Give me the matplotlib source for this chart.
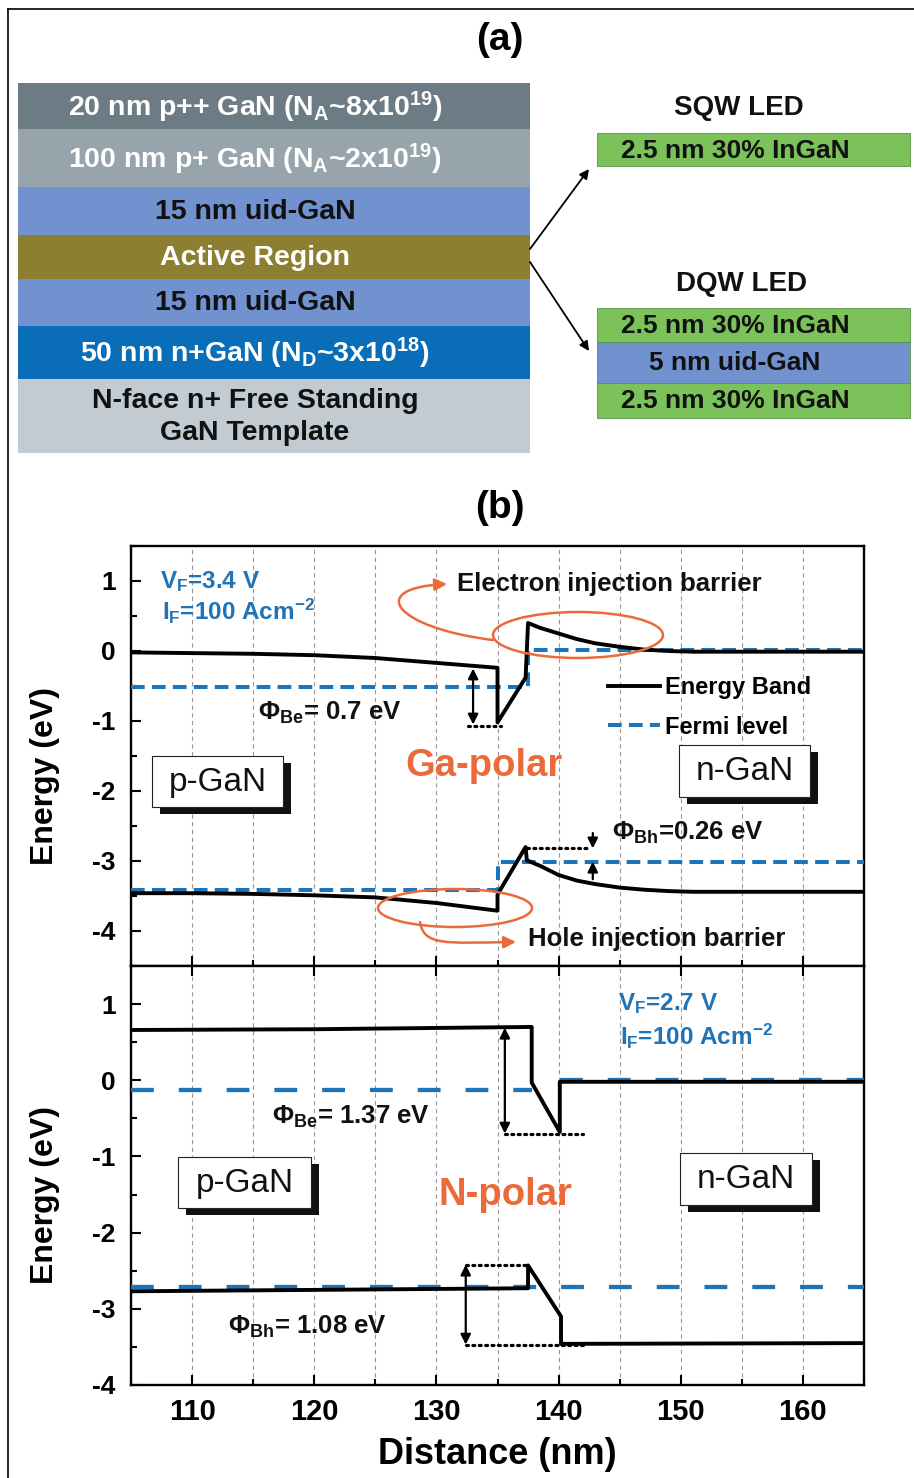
import matplotlib
matplotlib.use('Agg')
import matplotlib.pyplot as plt
from matplotlib.patches import Rectangle, Ellipse, FancyArrowPatch
from matplotlib.path import Path
from matplotlib.ticker import MultipleLocator

plt.rcParams.update({
    'font.family': ['Liberation Sans', 'DejaVu Sans'],
    'font.weight': 'bold',
    'axes.labelweight': 'bold',
    'mathtext.default': 'regular',
    'axes.unicode_minus': False,
})

BLUE = '#1f73b7'
ORANGE = '#eb6a3a'

# ---------------- panel (a) data ----------------
layer_labels = ['20 nm p++ GaN ($N_A$~8x$10^{19}$)',
                '100 nm p+ GaN ($N_A$~2x$10^{19}$)',
                '15 nm uid-GaN',
                'Active Region',
                '15 nm uid-GaN',
                '50 nm n+GaN ($N_D$~3x$10^{18}$)',
                'N-face n+ Free Standing\nGaN Template']
layer_colors = ['#6d7c84', '#97a4ab', '#7191cf', '#8c7f31', '#7191cf', '#0a6db7', '#c1cbd1']
layer_text_colors = ['white', 'white', '#111111', 'white', '#111111', 'white', '#111111']
layer_edges = [83, 129, 187, 235, 279, 326, 379, 453]

sqw_labels = ['2.5 nm 30% InGaN']
sqw_colors = ['#7cc25a']
sqw_edges = [133, 166]
dqw_labels = ['2.5 nm 30% InGaN', '5 nm uid-GaN', '2.5 nm 30% InGaN']
dqw_colors = ['#7cc25a', '#7191cf', '#7cc25a']
dqw_edges = [308, 342, 383, 418]

# ---------------- panel (b) data ----------------
ga_cb_x = [105, 110, 115, 120, 125, 130, 135, 135, 137.3, 137.5, 138.5, 140, 141.5, 143, 145, 147, 149, 151, 165]
ga_cb_e = [-0.02, -0.03, -0.04, -0.06, -0.10, -0.17, -0.24, -1.02, -0.38, 0.40, 0.33, 0.25, 0.17, 0.11, 0.06, 0.02, 0.00, -0.01, -0.01]
ga_vb_x = [105, 110, 115, 120, 125, 130, 135, 135, 137.3, 137.4, 138.5, 140, 141.5, 143, 145, 147, 149, 151, 165]
ga_vb_e = [-3.46, -3.46, -3.47, -3.49, -3.52, -3.60, -3.71, -3.48, -2.80, -2.99, -3.07, -3.20, -3.28, -3.33, -3.38, -3.41, -3.43, -3.44, -3.44]
ga_fe_x = [105, 137.5, 137.5, 165]
ga_fe_e = [-0.52, -0.52, 0.02, 0.02]
ga_fh_x = [105, 135, 135, 165]
ga_fh_e = [-3.41, -3.41, -3.01, -3.01]

n_cb_x = [105, 120, 137.8, 137.8, 140.1, 140.1, 165]
n_cb_e = [0.66, 0.67, 0.70, -0.03, -0.68, -0.02, -0.02]
n_vb_x = [105, 137.5, 137.5, 140.2, 140.2, 165]
n_vb_e = [-2.77, -2.73, -2.43, -3.10, -3.46, -3.45]
n_fe_x = [105, 137.8, float('nan'), 140.1, 165]
n_fe_e = [-0.13, -0.13, float('nan'), 0.01, 0.01]
n_fh_x = [105, 165]
n_fh_e = [-2.71, -2.71]

x_ticks = [110, 120, 130, 140, 150, 160]
top_yticks = [1, 0, -1, -2, -3, -4]
bot_yticks = [1, 0, -1, -2, -3, -4]

# barrier markers: (x, y_from, y_to)
ga_be_arrow = (133.0, -0.25, -1.05)
ga_be_dots = ([132.6, 135.3], -1.07)
ga_bh_dots = ([137.4, 142.6], -2.82)
ga_bh_arrows = [(142.8, -2.60, -2.82), (142.8, -3.26, -3.01)]
n_be_arrow = (135.6, 0.69, -0.70)
n_be_dots = ([135.6, 142.0], -0.71)
n_bh_arrow = (132.4, -2.42, -3.47)
n_bh_dots_top = ([132.4, 137.5], -2.42)
n_bh_dots_bot = ([132.4, 142.0], -3.48)

W, H = 914, 1478
fig = plt.figure(figsize=(W / 100, H / 100), dpi=100)

ax1 = fig.add_axes([131 / W, (H - 966) / H, 733 / W, 420 / H])
ax2 = fig.add_axes([131 / W, (H - 1385) / H, 733 / W, 419 / H])

top_dash = (3.4, 1.8)
bot_dash = (5.3, 5.8)

ax1.plot(ga_cb_x, ga_cb_e, color='k', lw=2.8, label='Energy Band', zorder=4)
ax1.plot(ga_vb_x, ga_vb_e, color='k', lw=2.8, zorder=4)
ax1.plot(ga_fe_x, ga_fe_e, color=BLUE, lw=2.9, dashes=top_dash, label='Fermi level', zorder=3)
ax1.plot(ga_fh_x, ga_fh_e, color=BLUE, lw=2.9, dashes=top_dash, zorder=3)

ax2.plot(n_cb_x, n_cb_e, color='k', lw=2.8, zorder=4)
ax2.plot(n_vb_x, n_vb_e, color='k', lw=2.8, zorder=4)
ax2.plot(n_fe_x, n_fe_e, color=BLUE, lw=3.1, dashes=bot_dash, zorder=3)
ax2.plot(n_fh_x, n_fh_e, color=BLUE, lw=3.1, dashes=bot_dash, zorder=3)

for ax, yl, yt in ((ax1, (-4.5, 1.5), top_yticks), (ax2, (-4.0, 1.5), bot_yticks)):
    ax.set_xlim(105, 165)
    ax.set_ylim(*yl)
    ax.set_xticks(x_ticks)
    ax.xaxis.set_minor_locator(MultipleLocator(5))
    ax.set_yticks(yt)
    ax.yaxis.set_minor_locator(MultipleLocator(0.5))
    ax.grid(True, which='both', axis='x', color='#a09898', lw=0.8, ls=(0, (4, 3)))
    ax.set_axisbelow(True)
    for s in ax.spines.values():
        s.set_linewidth(1.7)
    ax.tick_params(which='both', direction='in', width=1.5, right=False)
    ax.tick_params(which='major', length=7)
    ax.tick_params(which='minor', length=4.5)
    ax.tick_params(axis='y', labelsize=19, pad=11)
    ax.set_ylabel('Energy (eV)', fontsize=23, fontweight='bold')
    for lab in ax.get_yticklabels():
        lab.set_fontweight('bold')

ax1.tick_params(axis='x', top=False, bottom=True, labelbottom=False)
ax2.tick_params(axis='x', top=True, bottom=True, labelsize=21, pad=9)
ax1.yaxis.set_label_coords(-0.097, 0.452)
ax2.yaxis.set_label_coords(-0.097, 0.453)
ax2.set_xlabel('Distance (nm)', fontsize=26, fontweight='bold')
ax2.xaxis.label.set_va('center')
ax2.xaxis.set_label_coords(0.5, -0.167)

leg = ax1.legend(loc='upper left', bbox_to_anchor=(0.651, 0.690), frameon=False,
                 fontsize=17, handlelength=2.2, handletextpad=0.2, labelspacing=0.7,
                 borderpad=0, borderaxespad=0)
for t in leg.get_texts():
    t.set_fontweight('bold')

# barrier annotations
def dbl_arrow(ax, x, y0, y1, style='<|-|>'):
    ax.annotate('', xy=(x, y1), xytext=(x, y0),
                arrowprops=dict(arrowstyle=style, color='k', lw=1.6, mutation_scale=15,
                                shrinkA=0, shrinkB=0), zorder=6)

def dots(ax, xs, y):
    ax.plot(xs, [y, y], color='k', lw=2.3, ls=(0, (0.6, 1.4)), dash_capstyle='round', zorder=5)

dbl_arrow(ax1, *ga_be_arrow)
dots(ax1, *ga_be_dots)
dots(ax1, *ga_bh_dots)
for a in ga_bh_arrows:
    dbl_arrow(ax1, *a, style='-|>')
dbl_arrow(ax2, *n_be_arrow)
dots(ax2, *n_be_dots)
dbl_arrow(ax2, *n_bh_arrow)
dots(ax2, *n_bh_dots_top)
dots(ax2, *n_bh_dots_bot)

# ---------------- overlay in pixel coords ----------------
ov = fig.add_axes([0, 0, 1, 1], zorder=10)
ov.set_xlim(0, W)
ov.set_ylim(H, 0)
ov.axis('off')
ov.patch.set_alpha(0)

# frame lines
ov.plot([8, 8], [H, 9], color='k', lw=1.2)
ov.plot([8, W], [9, 9], color='k', lw=1.2)

ov.text(500, 40, '(a)', ha='center', va='center', fontsize=28)
ov.text(500, 508, '(b)', ha='center', va='center', fontsize=28)

for i, (lab, col, tc) in enumerate(zip(layer_labels, layer_colors, layer_text_colors)):
    y0, y1 = layer_edges[i], layer_edges[i + 1]
    ov.add_patch(Rectangle((18, y0), 512, y1 - y0, fc=col, ec='none'))
    ov.text(255, (y0 + y1) / 2 + 1, lab, ha='center', va='center', color=tc,
            fontsize=20.5, linespacing=1.3)

ov.text(739, 108, 'SQW LED', ha='center', va='center', fontsize=20, color='#111111')
ov.text(742, 284, 'DQW LED', ha='center', va='center', fontsize=20, color='#111111')
for labs, cols, edges in ((sqw_labels, sqw_colors, sqw_edges), (dqw_labels, dqw_colors, dqw_edges)):
    for i, (lab, col) in enumerate(zip(labs, cols)):
        y0, y1 = edges[i], edges[i + 1]
        ov.add_patch(Rectangle((597, y0), 313, y1 - y0, fc=col, ec='#5d8f48', lw=0.6))
        ov.text(735, (y0 + y1) / 2 + 1, lab, ha='center', va='center', fontsize=19, color='#111111')

ov.annotate('', xy=(589, 169), xytext=(530, 249),
            arrowprops=dict(arrowstyle='-|>', color='k', lw=1.3, mutation_scale=14, shrinkA=0, shrinkB=0))
ov.annotate('', xy=(589, 351), xytext=(530, 262),
            arrowprops=dict(arrowstyle='-|>', color='k', lw=1.3, mutation_scale=14, shrinkA=0, shrinkB=0))

# shadowed label boxes
def shadow_box(x0, y0, x1, y1, text, fs=24):
    ov.add_patch(Rectangle((x0 + 8, y0 + 7), x1 - x0, y1 - y0, fc='#111111', ec='none'))
    ov.add_patch(Rectangle((x0, y0), x1 - x0, y1 - y0, fc='white', ec='#222222', lw=0.8))
    ov.text((x0 + x1) / 2, (y0 + y1) / 2 + 1, text, ha='center', va='center',
            fontsize=fs, fontweight='normal', color='#111111')

shadow_box(152, 756, 283, 807, 'p-GaN')
shadow_box(679, 745, 810, 797, 'n-GaN')
shadow_box(178, 1157, 311, 1208, 'p-GaN')
shadow_box(680, 1153, 812, 1205, 'n-GaN')

# texts for (b)
ov.text(160, 588, '$V_F$=3.4 V', color=BLUE, fontsize=17.5, va='baseline')
ov.text(162, 620, '$I_F$=100 Acm$^{-2}$', color=BLUE, fontsize=17.5, va='baseline')
ov.text(618, 1010, '$V_F$=2.7 V', color=BLUE, fontsize=17.5, va='baseline')
ov.text(620, 1045, '$I_F$=100 Acm$^{-2}$', color=BLUE, fontsize=17.5, va='baseline')

ov.text(457, 591, 'Electron injection barrier', fontsize=18.5, va='baseline', color='#111111')
ov.text(528, 946, 'Hole injection barrier', fontsize=18.5, va='baseline', color='#111111')
ov.text(258, 720, r'$\Phi_{Be}$= 0.7 eV', fontsize=18.5, va='baseline', color='#111111')
ov.text(612, 840, r'$\Phi_{Bh}$=0.26 eV', fontsize=18.5, va='baseline', color='#111111')
ov.text(272, 1124, r'$\Phi_{Be}$= 1.37 eV', fontsize=18.5, va='baseline', color='#111111')
ov.text(228, 1334, r'$\Phi_{Bh}$= 1.08 eV', fontsize=18.5, va='baseline', color='#111111')

ov.text(484, 776, 'Ga-polar', fontsize=27.5, ha='center', va='baseline', color=ORANGE)
ov.text(505, 1205, 'N-polar', fontsize=27.5, ha='center', va='baseline', color=ORANGE)

# orange ellipses and swoosh arrows
ov.add_patch(Ellipse((578, 635), 170, 46, fc='none', ec=ORANGE, lw=1.8))
ov.add_patch(Ellipse((455, 908), 154, 38, fc='none', ec=ORANGE, lw=1.8))
p1 = Path([(493, 640), (395, 628), (365, 588), (447, 584)],
          [Path.MOVETO, Path.CURVE4, Path.CURVE4, Path.CURVE4])
ov.add_patch(FancyArrowPatch(path=p1, arrowstyle='-|>', mutation_scale=18, color=ORANGE, lw=1.8))
p2 = Path([(420, 922), (424, 946), (445, 943), (516, 942)],
          [Path.MOVETO, Path.CURVE4, Path.CURVE4, Path.CURVE4])
ov.add_patch(FancyArrowPatch(path=p2, arrowstyle='-|>', mutation_scale=18, color=ORANGE, lw=1.8))

fig.savefig('out.png', dpi=100)
